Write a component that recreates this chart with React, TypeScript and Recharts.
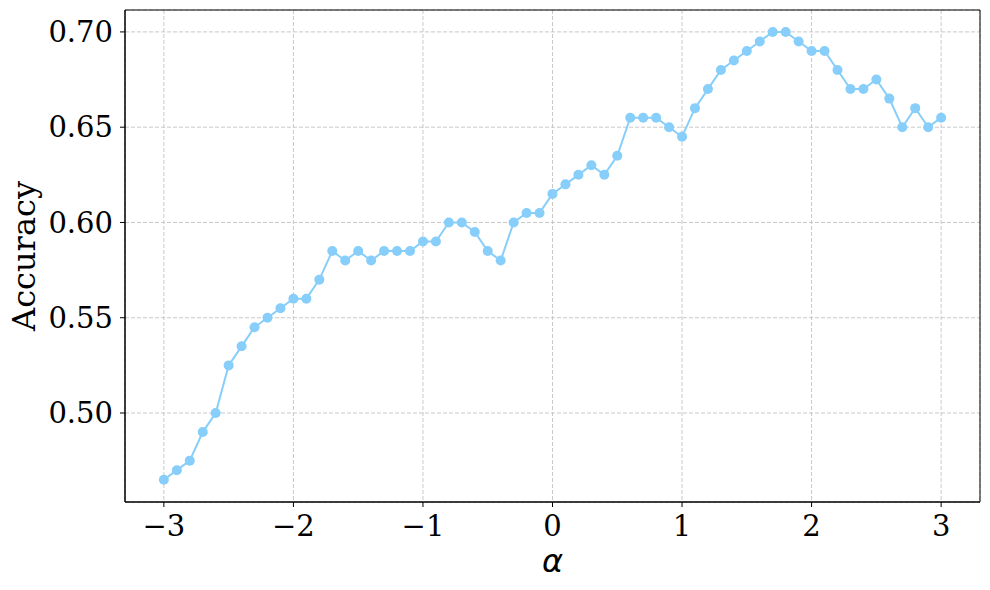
import { CartesianGrid, Label, Line, LineChart, ReferenceArea, XAxis, YAxis } from "recharts";

const ALPHAS = [
  -3.0, -2.9, -2.8, -2.7, -2.6, -2.5, -2.4, -2.3, -2.2, -2.1,
  -2.0, -1.9, -1.8, -1.7, -1.6, -1.5, -1.4, -1.3, -1.2, -1.1,
  -1.0, -0.9, -0.8, -0.7, -0.6, -0.5, -0.4, -0.3, -0.2, -0.1,
  0.0, 0.1, 0.2, 0.3, 0.4, 0.5, 0.6, 0.7, 0.8, 0.9,
  1.0, 1.1, 1.2, 1.3, 1.4, 1.5, 1.6, 1.7, 1.8, 1.9,
  2.0, 2.1, 2.2, 2.3, 2.4, 2.5, 2.6, 2.7, 2.8, 2.9, 3.0,
];

const ACCURACY = [
  0.465, 0.47, 0.475, 0.49, 0.5, 0.525, 0.535, 0.545, 0.55, 0.555,
  0.56, 0.56, 0.57, 0.585, 0.58, 0.585, 0.58, 0.585, 0.585, 0.585,
  0.59, 0.59, 0.6, 0.6, 0.595, 0.585, 0.58, 0.6, 0.605, 0.605,
  0.615, 0.62, 0.625, 0.63, 0.625, 0.635, 0.655, 0.655, 0.655, 0.65,
  0.645, 0.66, 0.67, 0.68, 0.685, 0.69, 0.695, 0.7, 0.7, 0.695,
  0.69, 0.69, 0.68, 0.67, 0.67, 0.675, 0.665, 0.65, 0.66, 0.65, 0.655,
];

const X_TICKS = [-3, -2, -1, 0, 1, 2, 3];
const Y_TICKS = [0.5, 0.55, 0.6, 0.65, 0.7];
const X_DOMAIN: [number, number] = [-3.3, 3.3];
const Y_DOMAIN: [number, number] = [0.4533, 0.7115];

const data = ALPHAS.map((a, i) => ({ alpha: a, acc: ACCURACY[i] }));

const SERIF = "'DejaVu Serif', serif";
const tickStyle = { fill: "#000", fontSize: 29, fontFamily: SERIF };

const fmtX = (v: number) => (v < 0 ? `\u2212${Math.abs(v)}` : String(v));

export default function App() {
  return (
    <div style={{ position: "absolute", left: 0, top: 0, width: 990, height: 590, background: "#fff" }}>
      <LineChart width={990} height={590} data={data} margin={{ top: 10, right: 10, bottom: 0, left: 0 }}>
        <CartesianGrid stroke="#c8c8c8" strokeDasharray="4 2" strokeWidth={1} />
        <XAxis
          dataKey="alpha"
          type="number"
          domain={X_DOMAIN}
          ticks={X_TICKS}
          allowDataOverflow
          height={88}
          tick={tickStyle}
          tickFormatter={fmtX}
          tickSize={5}
          tickMargin={8}
          tickLine={{ stroke: "#000" }}
          axisLine={{ stroke: "#000" }}
        >
          <Label
            content={({ viewBox }: any) => (
              <text
                x={viewBox.x + viewBox.width / 2}
                y={572}
                textAnchor="middle"
                style={{ fontFamily: "'DejaVu Sans', sans-serif", fontStyle: "italic", fontSize: 32 }}
              >
                α
              </text>
            )}
          />
        </XAxis>
        <YAxis
          type="number"
          domain={Y_DOMAIN}
          ticks={Y_TICKS}
          allowDataOverflow
          width={125}
          tick={tickStyle}
          tickFormatter={(v: number) => v.toFixed(2)}
          tickSize={5}
          tickMargin={7}
          tickLine={{ stroke: "#000" }}
          axisLine={{ stroke: "#000" }}
        >
          <Label
            content={({ viewBox }: any) => {
              const cx = 35;
              const cy = viewBox.y + viewBox.height / 2;
              return (
                <text
                  x={cx}
                  y={cy}
                  textAnchor="middle"
                  transform={`rotate(-90, ${cx}, ${cy})`}
                  style={{ fontFamily: SERIF, fontSize: 32 }}
                >
                  Accuracy
                </text>
              );
            }}
          />
        </YAxis>
        <ReferenceArea
          x1={X_DOMAIN[0]}
          x2={X_DOMAIN[1]}
          y1={Y_DOMAIN[0]}
          y2={Y_DOMAIN[1]}
          fill="none"
          stroke="#000"
          strokeWidth={1}
        />
        <Line
          dataKey="acc"
          type="linear"
          stroke="#87CEFA"
          strokeWidth={2}
          dot={{ r: 5, fill: "#87CEFA", stroke: "none" }}
          activeDot={false}
          isAnimationActive={false}
        />
      </LineChart>
    </div>
  );
}
